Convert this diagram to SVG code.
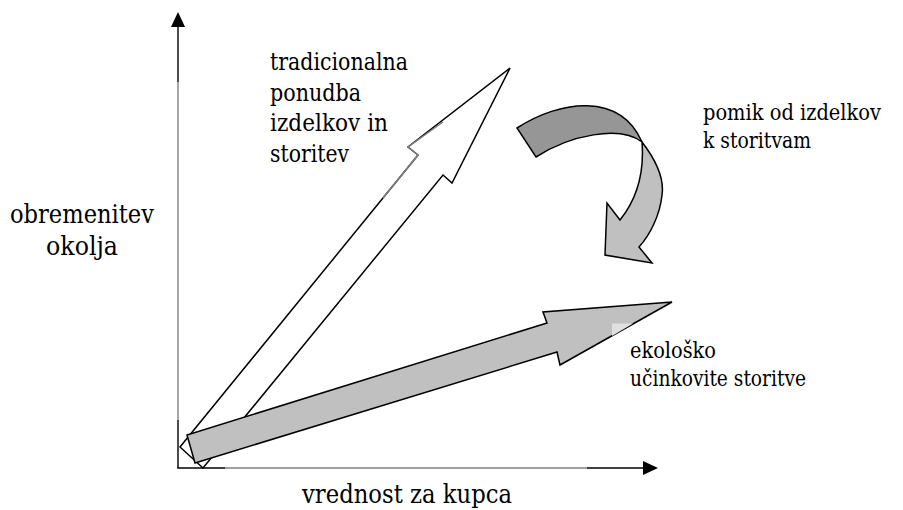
<svg xmlns="http://www.w3.org/2000/svg" width="903" height="510" viewBox="0 0 903 510">
<style>
text{font-family:'DejaVu Serif',serif;fill:#000}
.ax{stroke:#000;stroke-width:1.4;fill:none}
.axg{stroke:#808080;stroke-width:1.4;fill:none}
.sh{stroke:#000;stroke-width:1.5;stroke-linejoin:miter}
</style>
<rect width="903" height="510" fill="#fff"/>
<g id="axes">
<line class="ax" x1="178" y1="26" x2="178" y2="82"/>
<line class="axg" x1="178" y1="82" x2="178" y2="420"/>
<line class="ax" x1="178" y1="420" x2="178" y2="468"/>
<polygon points="178,12 171,27 185,27" fill="#000"/>
<line class="ax" x1="177.3" y1="468" x2="225" y2="468"/>
<line class="axg" x1="225" y1="468" x2="587" y2="468"/>
<line class="ax" x1="587" y1="468" x2="644" y2="468"/>
<polygon points="658,468 643,461 643,475" fill="#000"/>
</g>
<g id="traditional-arrow">
<polygon class="sh" fill="#fff" points="510,68 408,147 418,155 180,447 203,468 443,175 452,183"/>
<polyline points="443,122 408,147 418,155 383,198" fill="none" stroke="#808080" stroke-width="1.5"/>
</g>
<g id="eco-arrow">
<polygon class="sh" fill="#c0c0c0" points="672,302 543,312 547,323 187,435 195,463 557,352 560,365"/>
<polygon points="612,323.5 633,323.5 612,336" fill="#e0e0e0"/>
</g>
<g id="shift-arrow">
<path class="sh" fill="#969696" d="M517,128 C560,100 620,92 642,142 C620,125 570,135 536,157 Z"/>
<path class="sh" fill="#c0c0c0" d="M642,142 C652,155 665,175 662,195 C660,215 650,235 639,247 L652,263 L605,255 L607,203 L620,220 C632,205 645,180 642,142 Z"/>
</g>
<g id="labels">
<text font-size="24" x="270" y="70" textLength="138" lengthAdjust="spacingAndGlyphs">tradicionalna</text>
<text font-size="24" x="270" y="100.5" textLength="91" lengthAdjust="spacingAndGlyphs">ponudba</text>
<text font-size="24" x="270" y="131" textLength="118" lengthAdjust="spacingAndGlyphs">izdelkov in</text>
<text font-size="24" x="270" y="161.5" textLength="79" lengthAdjust="spacingAndGlyphs">storitev</text>
<text font-size="26" x="10" y="223" textLength="144" lengthAdjust="spacingAndGlyphs">obremenitev</text>
<text font-size="26" x="46" y="255" textLength="72" lengthAdjust="spacingAndGlyphs">okolja</text>
<text font-size="22" x="703" y="120" textLength="178" lengthAdjust="spacingAndGlyphs">pomik od izdelkov</text>
<text font-size="22" x="703" y="148" textLength="108" lengthAdjust="spacingAndGlyphs">k storitvam</text>
<text font-size="22" x="630" y="358" textLength="86" lengthAdjust="spacingAndGlyphs">ekološko</text>
<text font-size="22" x="630" y="386" textLength="176" lengthAdjust="spacingAndGlyphs">učinkovite storitve</text>
<text font-size="26.4" x="302" y="503" textLength="210" lengthAdjust="spacingAndGlyphs">vrednost za kupca</text>
</g>
</svg>
